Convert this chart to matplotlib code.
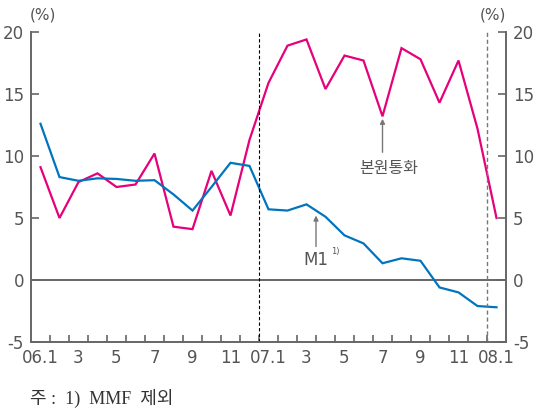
import matplotlib
matplotlib.use("Agg")
import matplotlib.pyplot as plt
import numpy as np

# monthly values, 06.1 .. 08.1
months = ["06.1", "2", "3", "4", "5", "6", "7", "8", "9", "10", "11", "12",
          "07.1", "2", "3", "4", "5", "6", "7", "8", "9", "10", "11", "12", "08.1"]
base_money = [9.1, 5.0, 7.9, 8.6, 7.5, 7.7, 10.2, 4.3, 4.1, 8.8, 5.2, 11.3,
              15.9, 18.9, 19.4, 15.4, 18.1, 17.7, 13.2, 18.7, 17.8, 14.3, 17.7, 12.2, 5.0]
m1 = [12.6, 8.3, 8.0, 8.2, 8.15, 8.0, 8.05, 6.9, 5.6, 7.5, 9.45, 9.2,
      5.7, 5.6, 6.1, 5.1, 3.6, 2.95, 1.35, 1.75, 1.55, -0.6, -1.0, -2.1, -2.2]
tick_labels = ["06.1", "3", "5", "7", "9", "11", "07.1", "3", "5", "7", "9", "11", "08.1"]
yticks = [-5, 0, 5, 10, 15, 20]

num_font = ["Liberation Sans Narrow", "DejaVu Sans"]
kr_font = ["Noto Sans CJK KR", "DejaVu Sans"]
gray = "#555555"

fig = plt.figure(figsize=(5.36, 4.12), dpi=100)
ax = fig.add_axes([31 / 536, 1 - 342 / 412, 475 / 536, 310 / 412])

x = np.arange(len(months)) + 0.5
ax.plot(x, base_money, color="#E6007A", lw=1.6, solid_joinstyle="miter")
ax.plot(x, m1, color="#0075BE", lw=1.6, solid_joinstyle="miter")

ax.axhline(0, color="#666666", lw=1.4, zorder=0)
ax.axvline(12, color="black", lw=0.8, ls=(0, (3, 2)))
ax.axvline(24, color="#777777", lw=1.0, ls=(0, (3, 2)))

ax.set_xlim(0, 25)
ax.set_ylim(-5, 20)
ax.set_xticks(np.arange(0, 25, 2) + 0.5)
ax.set_xticklabels(tick_labels, family=num_font, fontsize=12, color=gray)
ax.set_xticks(np.arange(1, 25), minor=True)
ax.tick_params(axis="x", which="major", length=0, pad=5)
ax.tick_params(axis="x", which="minor", direction="in", length=5, color="#666666", width=1.2)

ax.set_yticks(yticks)
ax.set_yticklabels([str(v) for v in yticks], family=num_font, fontsize=12, color=gray)
ax.tick_params(axis="y", direction="in", length=6, color="#666666", width=1.2,
               left=True, right=True, labelleft=True, labelright=True, pad=5)

for side in ["left", "right", "bottom"]:
    ax.spines[side].set_color("#666666")
    ax.spines[side].set_linewidth(1.4)
ax.spines["top"].set_visible(False)

fig.text(43 / 536, 1 - 15 / 412, "(%)", ha="center", va="center",
         family=num_font, fontsize=11, color=gray)
fig.text(493 / 536, 1 - 15 / 412, "(%)", ha="center", va="center",
         family=num_font, fontsize=11, color=gray)

arrow = dict(arrowstyle="-|>", color="#777777", lw=1.0, mutation_scale=7, shrinkA=0, shrinkB=0)
ax.annotate("", xy=(18.5, 13.0), xytext=(18.5, 10.3), arrowprops=arrow)
ax.text(18.8, 9.0, "본원통화", ha="center", va="center", family=kr_font,
        fontsize=11.5, color=gray)

ax.annotate("", xy=(15.0, 5.2), xytext=(15.0, 2.7), arrowprops=arrow)
ax.text(15.0, 1.6, "M1", ha="center", va="center", family=num_font,
        fontsize=12, color=gray)
ax.text(15.8, 2.3, "1)", ha="left", va="center", family=num_font,
        fontsize=6, color=gray)

fig.text(30 / 536, 1 - 398 / 412, "주 :  1)  MMF  제외", ha="left", va="center",
         family=["Liberation Serif", "Noto Sans CJK KR"], fontsize=13, color="#333333")

fig.savefig("out.png", dpi=100)
